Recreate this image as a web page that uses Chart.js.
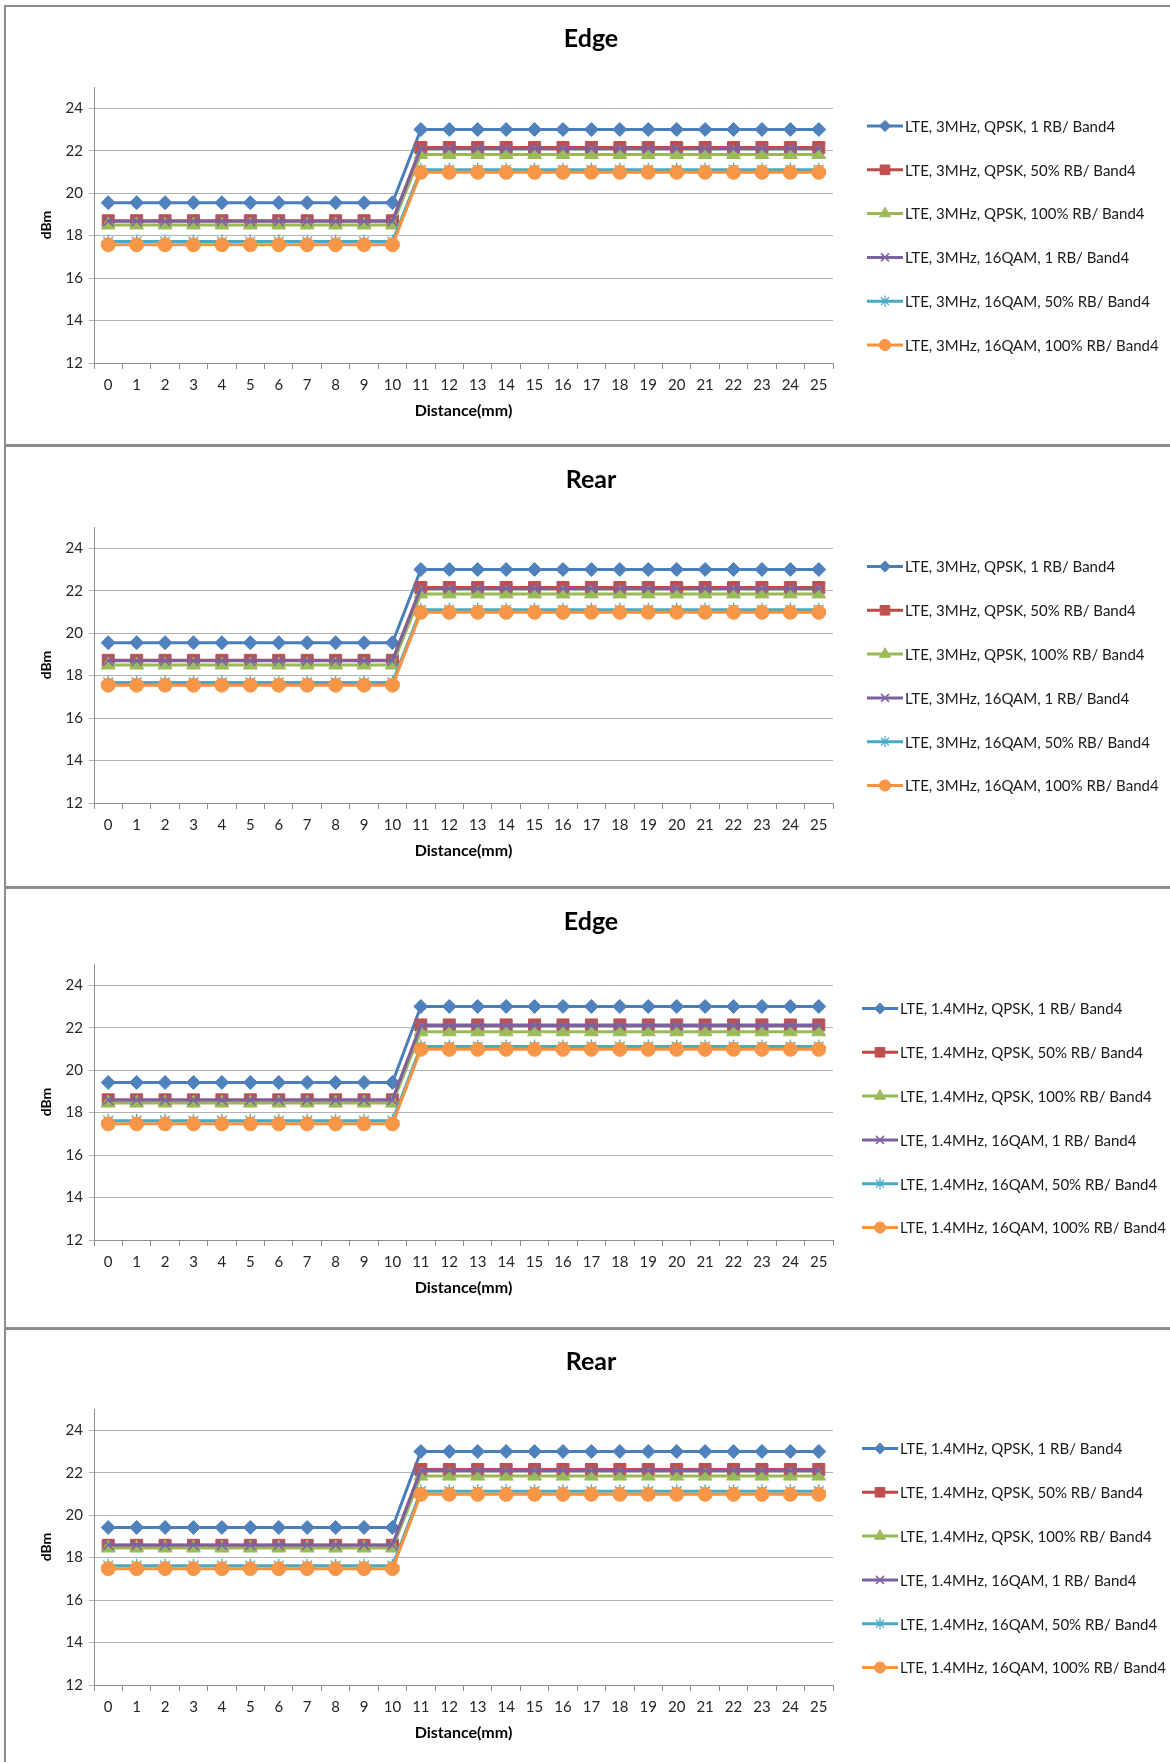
<!DOCTYPE html>
<html>
<head>
<meta charset="utf-8">
<script src="https://cdn.jsdelivr.net/npm/chart.js@4/dist/chart.umd.min.js"></script>
<style>
  html, body { margin: 0; padding: 0; background: #fff; }
  body { width: 1170px; height: 1762px; position: relative; overflow: hidden; }
  canvas { position: absolute; left: 0; }
  .hline { position: absolute; left: 4px; width: 1166px; background: #8c8c8c; z-index: 5; }
  .vline { position: absolute; left: 4px; top: 5px; width: 2px; height: 1757px; background: #8c8c8c; z-index: 5; }
</style>
</head>
<body>
<div class="vline"></div>
<div class="hline" style="top:5px;height:2px"></div>
<div class="hline" style="top:444px;height:3px"></div>
<div class="hline" style="top:886px;height:3px"></div>
<div class="hline" style="top:1327px;height:3px"></div>
<canvas id="c0" width="1170" height="440"></canvas>
<canvas id="c1" width="1170" height="440"></canvas>
<canvas id="c2" width="1170" height="440"></canvas>
<canvas id="c3" width="1170" height="440"></canvas>
<script>
// ---------- DATA ----------
const distances = ['0','1','2','3','4','5','6','7','8','9','10','11','12','13','14','15','16','17','18','19','20','21','22','23','24','25'];
const titles = ['Edge', 'Rear', 'Edge', 'Rear'];
const yTicksMin = 12, yTicksMax = 25, yStep = 2;

const labels3MHz = ['LTE, 3MHz, QPSK, 1 RB/ Band4','LTE, 3MHz, QPSK, 50% RB/ Band4','LTE, 3MHz, QPSK, 100% RB/ Band4','LTE, 3MHz, 16QAM, 1 RB/ Band4','LTE, 3MHz, 16QAM, 50% RB/ Band4','LTE, 3MHz, 16QAM, 100% RB/ Band4'];
const labels14MHz = ['LTE, 1.4MHz, QPSK, 1 RB/ Band4','LTE, 1.4MHz, QPSK, 50% RB/ Band4','LTE, 1.4MHz, QPSK, 100% RB/ Band4','LTE, 1.4MHz, 16QAM, 1 RB/ Band4','LTE, 1.4MHz, 16QAM, 50% RB/ Band4','LTE, 1.4MHz, 16QAM, 100% RB/ Band4'];

// Panel 1: Edge, 3MHz
const edge3_qpsk1   = [19.55,19.55,19.55,19.55,19.55,19.55,19.55,19.55,19.55,19.55,19.55,23.0,23.0,23.0,23.0,23.0,23.0,23.0,23.0,23.0,23.0,23.0,23.0,23.0,23.0,23.0];
const edge3_qpsk50  = [18.7,18.7,18.7,18.7,18.7,18.7,18.7,18.7,18.7,18.7,18.7,22.15,22.15,22.15,22.15,22.15,22.15,22.15,22.15,22.15,22.15,22.15,22.15,22.15,22.15,22.15];
const edge3_qpsk100 = [18.5,18.5,18.5,18.5,18.5,18.5,18.5,18.5,18.5,18.5,18.5,21.82,21.82,21.82,21.82,21.82,21.82,21.82,21.82,21.82,21.82,21.82,21.82,21.82,21.82,21.82];
const edge3_16q1    = [18.68,18.68,18.68,18.68,18.68,18.68,18.68,18.68,18.68,18.68,18.68,22.1,22.1,22.1,22.1,22.1,22.1,22.1,22.1,22.1,22.1,22.1,22.1,22.1,22.1,22.1];
const edge3_16q50   = [17.72,17.72,17.72,17.72,17.72,17.72,17.72,17.72,17.72,17.72,17.72,21.1,21.1,21.1,21.1,21.1,21.1,21.1,21.1,21.1,21.1,21.1,21.1,21.1,21.1,21.1];
const edge3_16q100  = [17.57,17.57,17.57,17.57,17.57,17.57,17.57,17.57,17.57,17.57,17.57,20.98,20.98,20.98,20.98,20.98,20.98,20.98,20.98,20.98,20.98,20.98,20.98,20.98,20.98,20.98];

// Panel 2: Rear, 3MHz
const rear3_qpsk1   = [19.55,19.55,19.55,19.55,19.55,19.55,19.55,19.55,19.55,19.55,19.55,23.0,23.0,23.0,23.0,23.0,23.0,23.0,23.0,23.0,23.0,23.0,23.0,23.0,23.0,23.0];
const rear3_qpsk50  = [18.72,18.72,18.72,18.72,18.72,18.72,18.72,18.72,18.72,18.72,18.72,22.15,22.15,22.15,22.15,22.15,22.15,22.15,22.15,22.15,22.15,22.15,22.15,22.15,22.15,22.15];
const rear3_qpsk100 = [18.5,18.5,18.5,18.5,18.5,18.5,18.5,18.5,18.5,18.5,18.5,21.85,21.85,21.85,21.85,21.85,21.85,21.85,21.85,21.85,21.85,21.85,21.85,21.85,21.85,21.85];
const rear3_16q1    = [18.7,18.7,18.7,18.7,18.7,18.7,18.7,18.7,18.7,18.7,18.7,22.1,22.1,22.1,22.1,22.1,22.1,22.1,22.1,22.1,22.1,22.1,22.1,22.1,22.1,22.1];
const rear3_16q50   = [17.68,17.68,17.68,17.68,17.68,17.68,17.68,17.68,17.68,17.68,17.68,21.1,21.1,21.1,21.1,21.1,21.1,21.1,21.1,21.1,21.1,21.1,21.1,21.1,21.1,21.1];
const rear3_16q100  = [17.55,17.55,17.55,17.55,17.55,17.55,17.55,17.55,17.55,17.55,17.55,20.98,20.98,20.98,20.98,20.98,20.98,20.98,20.98,20.98,20.98,20.98,20.98,20.98,20.98,20.98];

// Panel 3: Edge, 1.4MHz
const edge14_qpsk1   = [19.42,19.42,19.42,19.42,19.42,19.42,19.42,19.42,19.42,19.42,19.42,23.0,23.0,23.0,23.0,23.0,23.0,23.0,23.0,23.0,23.0,23.0,23.0,23.0,23.0,23.0];
const edge14_qpsk50  = [18.6,18.6,18.6,18.6,18.6,18.6,18.6,18.6,18.6,18.6,18.6,22.13,22.13,22.13,22.13,22.13,22.13,22.13,22.13,22.13,22.13,22.13,22.13,22.13,22.13,22.13];
const edge14_qpsk100 = [18.45,18.45,18.45,18.45,18.45,18.45,18.45,18.45,18.45,18.45,18.45,21.81,21.81,21.81,21.81,21.81,21.81,21.81,21.81,21.81,21.81,21.81,21.81,21.81,21.81,21.81];
const edge14_16q1    = [18.6,18.6,18.6,18.6,18.6,18.6,18.6,18.6,18.6,18.6,18.6,22.1,22.1,22.1,22.1,22.1,22.1,22.1,22.1,22.1,22.1,22.1,22.1,22.1,22.1,22.1];
const edge14_16q50   = [17.62,17.62,17.62,17.62,17.62,17.62,17.62,17.62,17.62,17.62,17.62,21.11,21.11,21.11,21.11,21.11,21.11,21.11,21.11,21.11,21.11,21.11,21.11,21.11,21.11,21.11];
const edge14_16q100  = [17.47,17.47,17.47,17.47,17.47,17.47,17.47,17.47,17.47,17.47,17.47,20.98,20.98,20.98,20.98,20.98,20.98,20.98,20.98,20.98,20.98,20.98,20.98,20.98,20.98,20.98];

// Panel 4: Rear, 1.4MHz
const rear14_qpsk1   = [19.42,19.42,19.42,19.42,19.42,19.42,19.42,19.42,19.42,19.42,19.42,23.0,23.0,23.0,23.0,23.0,23.0,23.0,23.0,23.0,23.0,23.0,23.0,23.0,23.0,23.0];
const rear14_qpsk50  = [18.58,18.58,18.58,18.58,18.58,18.58,18.58,18.58,18.58,18.58,18.58,22.15,22.15,22.15,22.15,22.15,22.15,22.15,22.15,22.15,22.15,22.15,22.15,22.15,22.15,22.15];
const rear14_qpsk100 = [18.45,18.45,18.45,18.45,18.45,18.45,18.45,18.45,18.45,18.45,18.45,21.84,21.84,21.84,21.84,21.84,21.84,21.84,21.84,21.84,21.84,21.84,21.84,21.84,21.84,21.84];
const rear14_16q1    = [18.6,18.6,18.6,18.6,18.6,18.6,18.6,18.6,18.6,18.6,18.6,22.1,22.1,22.1,22.1,22.1,22.1,22.1,22.1,22.1,22.1,22.1,22.1,22.1,22.1,22.1];
const rear14_16q50   = [17.62,17.62,17.62,17.62,17.62,17.62,17.62,17.62,17.62,17.62,17.62,21.13,21.13,21.13,21.13,21.13,21.13,21.13,21.13,21.13,21.13,21.13,21.13,21.13,21.13,21.13];
const rear14_16q100  = [17.48,17.48,17.48,17.48,17.48,17.48,17.48,17.48,17.48,17.48,17.48,20.98,20.98,20.98,20.98,20.98,20.98,20.98,20.98,20.98,20.98,20.98,20.98,20.98,20.98,20.98];

const panelSeries = [
  [edge3_qpsk1, edge3_qpsk50, edge3_qpsk100, edge3_16q1, edge3_16q50, edge3_16q100],
  [rear3_qpsk1, rear3_qpsk50, rear3_qpsk100, rear3_16q1, rear3_16q50, rear3_16q100],
  [edge14_qpsk1, edge14_qpsk50, edge14_qpsk100, edge14_16q1, edge14_16q50, edge14_16q100],
  [rear14_qpsk1, rear14_qpsk50, rear14_qpsk100, rear14_16q1, rear14_16q50, rear14_16q100]
];
const panelLabels = [labels3MHz, labels3MHz, labels14MHz, labels14MHz];

// ---------- STYLES / LAYOUT ----------
const seriesStyles = [
  { line: '#4A7EBB', fill: '#4F81BD', style: 'rectRot',  radius: 7,   bw: 1 },
  { line: '#BE4B48', fill: '#C0504D', style: 'rect',     radius: 8.5, bw: 1 },
  { line: '#98B954', fill: '#9BBB59', style: 'triangle', radius: 8,   bw: 1 },
  { line: '#7D60A0', fill: '#8064A2', style: 'crossRot', radius: 7,   bw: 1.6 },
  { line: '#46AAC5', fill: '#4BACC6', style: 'star',     radius: 7,   bw: 1.3 },
  { line: '#F69240', fill: '#F79646', style: 'circle',   radius: 7,   bw: 1 }
];
const panelLayout = [
  { top: 7,    titleCenter: 32,   legendTop: 119,   legendX: 867 },
  { top: 447,  titleCenter: 33,   legendTop: 119.5, legendX: 867 },
  { top: 884,  titleCenter: 37.5, legendTop: 124.5, legendX: 862 },
  { top: 1329, titleCenter: 33,   legendTop: 119.5, legendX: 862 }
];
const PLOT_TOP = 80, PLOT_RIGHT = 833, X_AXIS_H = 84, LEFT_PAD = 12, Y_AXIS_W = 82;
const TITLE_SIZE = 25, TITLE_LH = 30;

const legendPlugin = {
  id: 'excelLegend',
  afterDraw(chart, args, opts) {
    const ctx = chart.ctx;
    ctx.save();
    ctx.font = '15px Lato';
    ctx.textBaseline = 'middle';
    ctx.textAlign = 'left';
    chart.data.datasets.forEach((ds, i) => {
      const y = opts.top + i * opts.step;
      ctx.strokeStyle = ds.borderColor;
      ctx.lineWidth = 3;
      ctx.beginPath();
      ctx.moveTo(opts.x, y);
      ctx.lineTo(opts.x + opts.lineLen, y);
      ctx.stroke();
      ctx.fillStyle = ds.pointBackgroundColor;
      ctx.strokeStyle = ds.pointBorderColor;
      ctx.lineWidth = ds.pointBorderWidth;
      Chart.helpers.drawPoint(ctx, { pointStyle: ds.pointStyle, radius: ds.pointRadius * 0.8, borderWidth: ds.pointBorderWidth, rotation: 0 }, opts.x + opts.lineLen / 2, y);
      ctx.fillStyle = '#1a1a1a';
      ctx.fillText(ds.label, opts.x + opts.lineLen + 2, y + 1);
    });
    ctx.restore();
  }
};

panelLayout.forEach((lay, p) => {
  const canvas = document.getElementById('c' + p);
  canvas.style.top = lay.top + 'px';
  const datasets = panelSeries[p].map((vals, i) => {
    const s = seriesStyles[i];
    return {
      label: panelLabels[p][i],
      data: vals,
      borderColor: s.line,
      backgroundColor: s.fill,
      borderWidth: 3,
      pointStyle: s.style,
      pointRadius: s.radius,
      pointHoverRadius: s.radius,
      pointBackgroundColor: s.fill,
      pointBorderColor: s.fill,
      pointBorderWidth: s.bw,
      tension: 0,
      fill: false,
      order: 10 - i
    };
  });
  const titlePadTop = lay.titleCenter - TITLE_LH / 2;
  const titlePadBottom = PLOT_TOP - titlePadTop - TITLE_LH;
  new Chart(canvas, {
    type: 'line',
    data: { labels: distances, datasets },
    options: {
      responsive: false,
      animation: false,
      devicePixelRatio: 1,
      layout: { padding: { left: LEFT_PAD, right: 0, top: 0, bottom: 0 } },
      plugins: {
        legend: { display: false },
        tooltip: { enabled: false },
        title: {
          display: true,
          text: titles[p],
          color: '#000',
          font: { family: 'Lato', size: TITLE_SIZE, weight: 'bold', lineHeight: TITLE_LH / TITLE_SIZE },
          padding: { top: titlePadTop, bottom: titlePadBottom }
        },
        excelLegend: { x: lay.legendX, top: lay.legendTop, step: 43.8, lineLen: 36 }
      },
      scales: {
        x: {
          type: 'category',
          offset: true,
          grid: { display: true, offset: true, drawOnChartArea: false, drawTicks: true, tickLength: 6, color: '#8c8c8c' },
          border: { display: true, color: '#8c8c8c', width: 1 },
          ticks: { color: '#262626', font: { family: 'Lato', size: 15 }, padding: 7, maxRotation: 0, autoSkip: false },
          title: { display: true, text: 'Distance(mm)', color: '#000', font: { family: 'Lato', size: 16, weight: 'bold', lineHeight: 1.2 }, padding: { top: 0, bottom: 26.5 } },
          afterFit(s) { s.height = X_AXIS_H; }
        },
        y: {
          type: 'linear',
          position: 'left',
          min: yTicksMin,
          max: yTicksMax,
          grid: { display: true, color: '#b3b3b3', lineWidth: 1, drawTicks: true, tickLength: 5 },
          border: { display: true, color: '#8c8c8c', width: 1 },
          ticks: { stepSize: yStep, includeBounds: false, color: '#262626', font: { family: 'Lato', size: 15 }, padding: 6 },
          title: { display: true, text: 'dBm', color: '#000', font: { family: 'Lato', size: 14, weight: 'bold', lineHeight: 1.2 }, padding: { top: 26.5, bottom: 0 } },
          afterFit(s) { s.width = Y_AXIS_W; }
        },
        rightSpace: {
          type: 'linear',
          position: 'right',
          display: true,
          grid: { display: false, drawTicks: false },
          border: { display: false },
          ticks: { display: false },
          afterFit(s) { s.width = 1170 - PLOT_RIGHT; }
        }
      }
    },
    plugins: [legendPlugin]
  });
});
</script>
</body>
</html>
